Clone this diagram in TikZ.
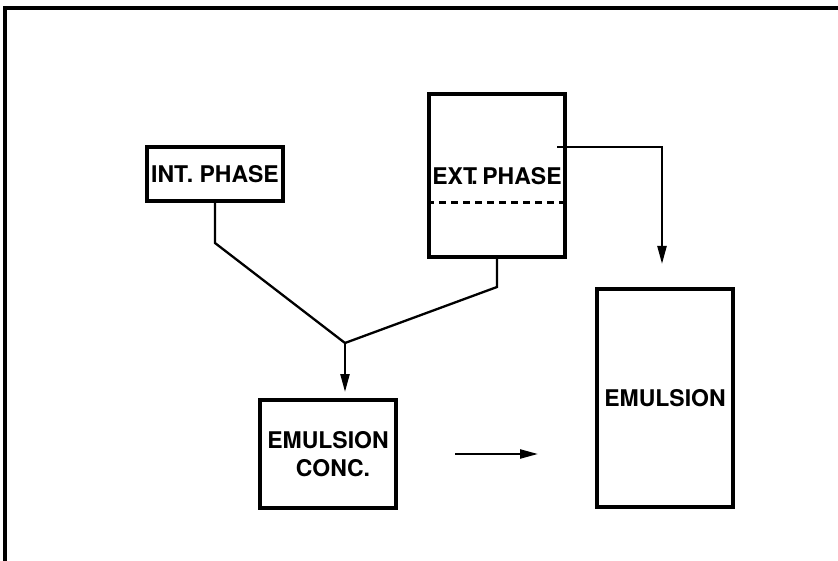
\documentclass[tikz,border=0pt]{standalone}
\usepackage{fontspec}
\setmainfont{TeX Gyre Heros}
\usetikzlibrary{arrows.meta}
\begin{document}
\begin{tikzpicture}[x=1pt,y=-1pt,
  lbl/.style={font=\fontsize{23}{30}\selectfont\bfseries},
  box/.style={draw,line width=4pt,inner sep=0pt,align=center,lbl,minimum width=136pt},
  link/.style={line width=2.3pt},
  flow/.style={link,-{Triangle[length=18pt,width=9pt]}}]
  \useasboundingbox (0,0) rectangle (838,561);
  % open frame
  \draw[line width=3.4pt] (838,8) -- (5,8) -- (5,561);
  % boxes
  \node[box,minimum height=54pt] (int) at (215,174) {INT.\ PHASE};
  \node[box,minimum height=163pt] (ext) at (497,175.5) {};
  \node[lbl] (extlbl) at (497,176) {EXT\kern-.25em.\kern.2em PHASE};
  \draw[line width=3pt,dash pattern=on 7pt off 5pt]
    (ext.west |- 0,203) -- (ext.east |- 0,203);
  \node[box,minimum height=108pt] (conc) at (328,454)
    {EMULSION\\[-2pt]\hspace*{10pt}CONC.};
  \node[box,minimum height=218pt] (emul) at (665,398) {EMULSION};
  % mixing lines
  \coordinate (join) at (345,343);
  \draw[link] (int.south) -- ++(0,40) -- (join);
  \draw[link] (ext.south) -- ++(0,28) -- (join);
  \draw[flow,shorten >=6pt] (join) -- (conc.north -| join);
  % direct path from the external phase
  \coordinate (tap) at (557,147);
  \draw[flow,shorten >=23pt] (tap) -| ([xshift=-3pt]emul.north);
  % dilution step
  \draw[flow,shorten <=57pt,shorten >=57pt] (conc.east) -- (conc.east -| emul.west);
\end{tikzpicture}
\end{document}
